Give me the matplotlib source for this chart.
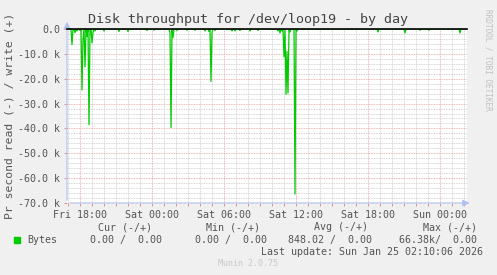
import numpy as np
import matplotlib
matplotlib.use("Agg")
import matplotlib.pyplot as plt
from matplotlib.ticker import FixedLocator, FuncFormatter

# read samples (hours relative to Sat 00:00, bytes/s, drawn negative)
read_hours = [-6.67, -6.42, -6.25, -6.04, -5.83, -5.71, -5.56, -5.42, -5.21,
              -5.04, -4.92, -4.75, -4.03, -2.78, -2.00, -0.42, 0.14, 1.50,
              1.62, 1.75, 2.08, 2.92, 3.58, 4.42, 4.78, 4.88, 5.00, 5.25,
              6.67, 6.88, 7.33, 8.17, 8.83, 10.50, 10.67, 10.83, 11.00,
              11.14, 11.25, 11.36, 11.50, 11.92, 12.08, 18.81, 21.08, 22.33,
              23.08, 25.67]
read_kbytes = [6.3, 1.5, 0.8, 0.6, 24.5, 4.0, 15.2, 3.0, 38.5,
               5.6, 1.5, 0.8, 0.8, 1.0, 1.0, 0.6, 0.5, 1.5,
               39.6, 3.5, 0.6, 0.5, 0.5, 0.8, 1.0, 21.1, 1.5, 0.6,
               0.8, 0.8, 0.6, 0.8, 0.6, 0.8, 1.6, 0.8, 11.2,
               26.3, 9.0, 25.8, 1.2, 66.38, 0.8, 1.2, 1.6, 0.5,
               0.5, 1.6]

tick_hours = [-6, 0, 6, 12, 18, 24]
tick_labels = ["Fri 18:00", "Sat 00:00", "Sat 06:00", "Sat 12:00", "Sat 18:00", "Sun 00:00"]

legend_cols = ["Cur (-/+)", "Min (-/+)", "Avg (-/+)", "Max (-/+)"]
legend_vals = ["0.00 /  0.00", "0.00 /  0.00", "848.02 /  0.00", "66.38k/  0.00"]

t0, t1 = -85 / 12.0, 315 / 12.0
step = 5 / 60.0
t = np.arange(t0, t1 + 1e-9, step)
vals = np.zeros(len(t))
for h, v in zip(read_hours, read_kbytes):
    i = int(round((h - t0) / step))
    vals[i] = -v * 1000

W, H = 497, 275
mono = "DejaVu Sans Mono"
bg = "#f0f0f0"
txt = "#555555"

fig = plt.figure(figsize=(W / 100, H / 100), dpi=100, facecolor=bg)
ax = fig.add_axes([67 / W, 1 - 203 / H, 400 / W, 174 / H])
ax.set_facecolor("white")

ax.set_xlim(t0, t1)
ax.set_ylim(-70000, 0)

# grid
for h in np.arange(-7, 27):
    if h % 6 == 0:
        continue
    ax.axvline(h, color="#c8c8c8", lw=0.6, ls=(0, (1, 1)), zorder=1)
for y in np.arange(-70000, 0, 2000):
    if y % 10000 == 0:
        continue
    ax.axhline(y, color="#c8c8c8", lw=0.6, ls=(0, (1, 1)), zorder=1)
for h in tick_hours:
    ax.axvline(h, color="#e8a0a0", lw=0.6, ls=(0, (1, 1)), zorder=1)
for y in np.arange(-60000, 0, 10000):
    ax.axhline(y, color="#e8a0a0", lw=0.6, ls=(0, (1, 1)), zorder=1)

ax.plot(t, vals, color="#00cc00", lw=0.9, zorder=3)
ax.axhline(0, color="black", lw=1.2, zorder=4, clip_on=False)

for s in ax.spines.values():
    s.set_visible(False)
ax.annotate("", xy=(t0, 4000), xytext=(t0, -70000),
            arrowprops=dict(arrowstyle="-|>,head_length=0.4,head_width=0.2",
                            color="#b0c0f0", lw=0.8), annotation_clip=False)
ax.annotate("", xy=(t1 + 0.45, -70000), xytext=(t0, -70000),
            arrowprops=dict(arrowstyle="-|>,head_length=0.4,head_width=0.2",
                            color="#b0c0f0", lw=0.8), annotation_clip=False)

ax.xaxis.set_major_locator(FixedLocator(tick_hours))
ax.set_xticklabels(tick_labels)
ax.xaxis.set_minor_locator(FixedLocator([h for h in range(-7, 27)]))
ax.yaxis.set_major_locator(FixedLocator(np.arange(-70000, 1, 10000)))
ax.yaxis.set_major_formatter(FuncFormatter(
    lambda v, p: "0.0" if v == 0 else "%.1f k" % (v / 1000)))
ax.tick_params(axis="both", which="both", colors="#e08080", length=2, width=0.6,
               labelcolor=txt, labelsize=7.2, pad=3)
ax.tick_params(axis="x", which="minor", length=2)
for lab in ax.get_xticklabels() + ax.get_yticklabels():
    lab.set_fontfamily(mono)

fig.text(248 / W, 1 - 19 / H, "Disk throughput for /dev/loop19 - by day",
         ha="center", va="center", fontsize=9.6, family=mono, color="#444444")
fig.text(10 / W, 1 - 116 / H, "Pr second read (-) / write (+)", rotation=90,
         ha="center", va="center", fontsize=8.2, family=mono, color=txt)
fig.text(488 / W, 1 - 60 / H, "RRDTOOL / TOBI OETIKER", rotation=270,
         ha="center", va="center", fontsize=5.6, family=mono, color="#c0c0c0")

col_right = [152, 260, 368, 477]
val_right = [162, 267, 372, 477]
for c, r in zip(legend_cols, col_right):
    fig.text(r / W, 1 - 227 / H, c, ha="right", va="center", fontsize=7.2,
             family=mono, color=txt)
for v, r in zip(legend_vals, val_right):
    fig.text(r / W, 1 - 240 / H, v, ha="right", va="center", fontsize=7.2,
             family=mono, color=txt)
fig.patches.append(plt.Rectangle((14 / W, 1 - 243 / H), 6 / W, 6 / H,
                                 transform=fig.transFigure, color="#00cc00"))
fig.text(27 / W, 1 - 240 / H, "Bytes", ha="left", va="center", fontsize=7.2,
         family=mono, color=txt)
fig.text(483 / W, 1 - 252 / H, "Last update: Sun Jan 25 02:10:06 2026",
         ha="right", va="center", fontsize=7.2, family=mono, color=txt)
fig.text(248 / W, 1 - 264 / H, "Munin 2.0.75", ha="center", va="center",
         fontsize=6.0, family=mono, color="#c8c8c8")

fig.savefig("out.png", dpi=100, facecolor=bg)
